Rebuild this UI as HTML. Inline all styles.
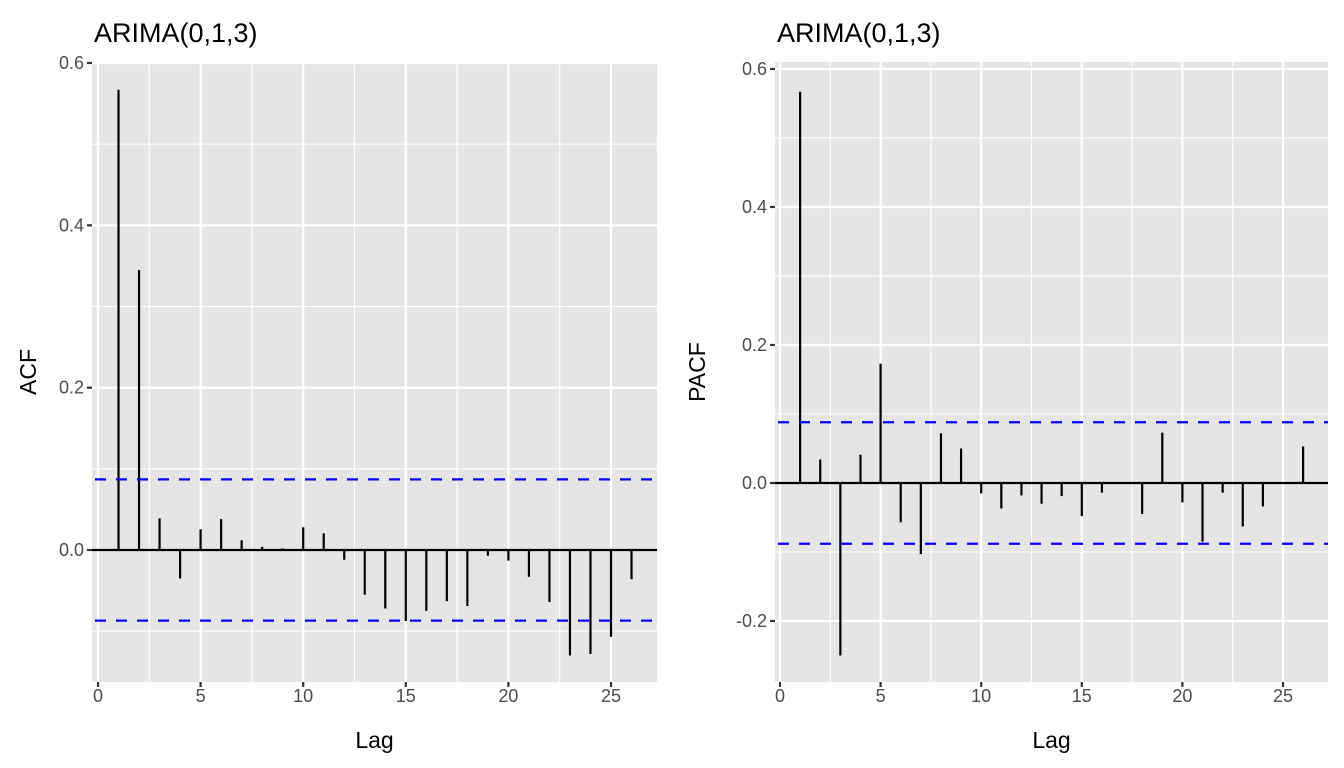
<!DOCTYPE html>
<html><head><meta charset="utf-8"><style>
body{margin:0;background:#fff;}
svg{display:block;font-family:"Liberation Sans",Arial,sans-serif;}
</style></head><body>
<svg id="c" width="1344" height="768"></svg>
<script>
const lags = [1,2,3,4,5,6,7,8,9,10,11,12,13,14,15,16,17,18,19,20,21,22,23,24,25,26];
const acfValues = [0.567,0.345,0.039,-0.035,0.0255,0.038,0.012,0.004,0.002,0.028,0.0205,-0.012,-0.055,-0.072,-0.0875,-0.075,-0.063,-0.069,-0.007,-0.013,-0.033,-0.064,-0.130,-0.128,-0.107,-0.036];
const pacfValues = [0.567,0.034,-0.25,0.041,0.173,-0.057,-0.103,0.072,0.050,-0.015,-0.037,-0.018,-0.030,-0.019,-0.048,-0.014,0.0,-0.045,0.073,-0.028,-0.085,-0.014,-0.063,-0.034,0.0,0.053];
const acfCI = [0.087];
const pacfCI = [0.088];
const xTicks = [0,5,10,15,20,25];
const acfYTicks = [0.0,0.2,0.4,0.6];
const pacfYTicks = [-0.2,0.0,0.2,0.4,0.6];

const NS="http://www.w3.org/2000/svg";
const svg=document.getElementById('c');
function mk(tag,attrs,parent){const e=document.createElementNS(NS,tag);for(const k in attrs)e.setAttribute(k,attrs[k]);(parent||svg).appendChild(e);return e;}

function panel(o){
  const g=mk('g',{});
  
  
  const X=v=>o.x0+(v-o.xmin)/(o.xmax-o.xmin)*(o.x1-o.x0);
  const Y=v=>o.y1-(v-o.ymin)/(o.ymax-o.ymin)*(o.y1-o.y0);
  const bg=mk('rect',{x:o.x0,y:o.y0,width:o.x1-o.x0,height:o.y1-o.y0,fill:'#e5e5e5'},g);
  
  
  for(let i=0;i<xTicks.length;i++){const v=xTicks[i]+2.5;if(v<o.xmax)mk('line',{x1:X(v),x2:X(v),y1:o.y0,y2:o.y1,stroke:'#fff','stroke-width':1.1},g);}
  for(let i=0;i<o.yTicks.length;i++){const v=o.yTicks[i]+0.1;if(v<o.ymax)mk('line',{x1:o.x0,x2:o.x1,y1:Y(v),y2:Y(v),stroke:'#fff','stroke-width':1.1},g);}
  const vm=o.yTicks[0]-0.1; if(vm>o.ymin) mk('line',{x1:o.x0,x2:o.x1,y1:Y(vm),y2:Y(vm),stroke:'#fff','stroke-width':1.1},g);
  xTicks.forEach(v=>{
    mk('line',{x1:X(v),x2:X(v),y1:o.y0,y2:o.y1,stroke:'#fff','stroke-width':2.2},g);
    mk('line',{x1:X(v),x2:X(v),y1:o.y1,y2:o.y1+5,stroke:'#333','stroke-width':2.2},g);
    const t=mk('text',{x:X(v),y:o.y1+20,'text-anchor':'middle','font-size':18,fill:'#4d4d4d'},g);t.textContent=v;
    
    
  });
  o.yTicks.forEach(v=>{
    mk('line',{x1:o.x0,x2:o.x1,y1:Y(v),y2:Y(v),stroke:'#fff','stroke-width':2.2},g);
    mk('line',{x1:o.x0-5,x2:o.x0,y1:Y(v),y2:Y(v),stroke:'#333','stroke-width':2.2},g);
    const t=mk('text',{x:o.x0-8,y:Y(v)+6,'text-anchor':'end','font-size':18,fill:'#4d4d4d'},g);t.textContent=v.toFixed(1);
    
    
  });
  mk('line',{x1:o.x0,x2:o.x1,y1:Y(0),y2:Y(0),stroke:'#000','stroke-width':2.2},g);
  lags.forEach((l,i)=>{
    const b=mk('line',{x1:X(l),x2:X(l),y1:Y(0),y2:Y(o.values[i]),stroke:'#000','stroke-width':2.2},g);
    
    
  });
  [o.ci[0],-o.ci[0]].forEach(v=>{
    const c=mk('line',{x1:o.x0,x2:o.x1,y1:Y(v),y2:Y(v),stroke:'#0000ff','stroke-width':2.2,'stroke-dasharray':'11,10','stroke-dashoffset':-3},g);
    
    
  });
  const tt=mk('text',{x:o.x0+2,y:42,'font-size':27,fill:'#000'},g);tt.textContent='ARIMA(0,1,3)';
  
  
  const xl=mk('text',{x:(o.x0+o.x1)/2,y:748,'text-anchor':'middle','font-size':23,fill:'#000'},g);xl.textContent='Lag';
  
  
  const yc=(o.y0+o.y1)/2;
  const yl=mk('text',{x:o.ylx,y:yc,'text-anchor':'middle','font-size':23,fill:'#000',transform:`rotate(-90 ${o.ylx} ${yc})`},g);yl.textContent=o.ylab;
  
  
}
panel({name:'acf-panel',x0:92,x1:657,y0:62,y1:682,xmin:(92-98)/20.52,xmax:(657-98)/20.52,ymin:-0.1626,ymax:0.6012,yTicks:acfYTicks,values:acfValues,ci:acfCI,ylab:'ACF',ylx:36});
panel({name:'pacf-panel',x0:775,x1:1328,y0:62,y1:682,xmin:(775-780)/20.12,xmax:(1328-780)/20.12,ymin:-0.2884,ymax:0.6101,yTicks:pacfYTicks,values:pacfValues,ci:pacfCI,ylab:'PACF',ylx:705});
</script>
</body></html>
